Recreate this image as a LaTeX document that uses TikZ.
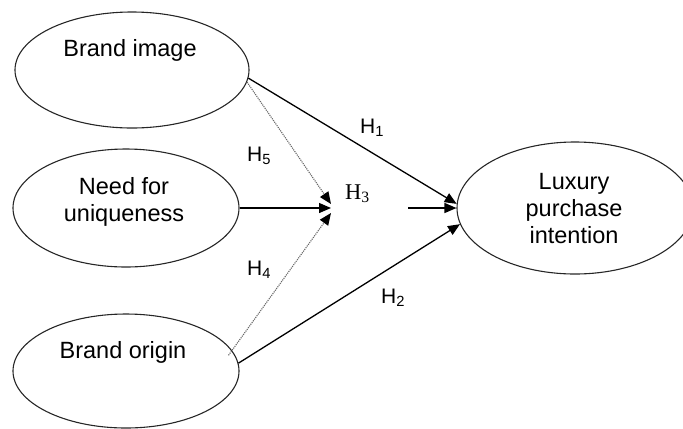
\documentclass[tikz,border=0pt]{standalone}
\usepackage{fontspec}
\setmainfont{Liberation Sans}
\newfontfamily\seriffont{Liberation Serif}
\usetikzlibrary{arrows.meta,shapes.geometric}
\begin{document}
\begin{tikzpicture}[x=1bp,y=-1bp,
  oval/.style={draw=black!85, line width=1.1bp, ellipse, inner sep=0pt},
  lbl/.style={font=\fontsize{23.5bp}{27bp}\selectfont, align=center, inner sep=0pt},
  hyp/.style={font=\fontsize{21bp}{24bp}\selectfont, anchor=base west, inner sep=0pt},
  solidarrow/.style={line width=1.3bp, -{Triangle[length=12bp,width=10bp]}},
  dotarrow/.style={draw=black!60, line width=1.1bp, densely dotted, -{Triangle[length=12bp,width=10bp,black]}}]
\useasboundingbox (0,0) rectangle (683,428);
% ellipses
\node[oval, minimum width=234bp, minimum height=116bp] (bi) at (132,70) {};
\node[oval, minimum width=226bp, minimum height=118bp] (nfu) at (126,208) {};
\node[oval, minimum width=226bp, minimum height=114bp] (bo) at (126,371) {};
\node[oval, minimum width=236bp, minimum height=132bp] (lpi) at (575,208) {};
% texts (base = baseline of last line)
\node[lbl, anchor=base] (tbi) at (130,56) {Brand image};
\node[lbl, anchor=base] (tnfu) at (124,221) {Need for\\uniqueness};
\node[lbl, anchor=base] (tbo) at (123,358) {Brand origin};
\node[lbl, anchor=base] (tlpi) at (574,243) {Luxury\\purchase\\intention};
% convergence points
\coordinate (m5) at (331,204);
\coordinate (m3) at (331,208);
\coordinate (m4) at (331,213);
\coordinate (s3) at (408,208);
% connectors
\draw[solidarrow] (bi.-4) -- (lpi.178.5);
\draw[dotarrow] (bi.-6) -- (m5);
\draw[solidarrow] (nfu.east) -- (m3);
\draw[dotarrow, shorten <=-6bp] (bo.11) -- (m4);
\draw[solidarrow] (s3) -- (lpi.west);
\draw[solidarrow] (bo.4) -- (lpi.188);
% hypothesis labels
\node[hyp] (h1) at (360,133) {H\textsubscript{1}};
\node[hyp] (h5) at (247,161) {H\textsubscript{5}};
\node[hyp, font=\seriffont\fontsize{22.5bp}{26bp}\selectfont] (h3) at (345,199) {H\textsubscript{3}};
\node[hyp] (h4) at (247,275) {H\textsubscript{4}};
\node[hyp] (h2) at (381,303) {H\textsubscript{2}};
\end{tikzpicture}
\end{document}
